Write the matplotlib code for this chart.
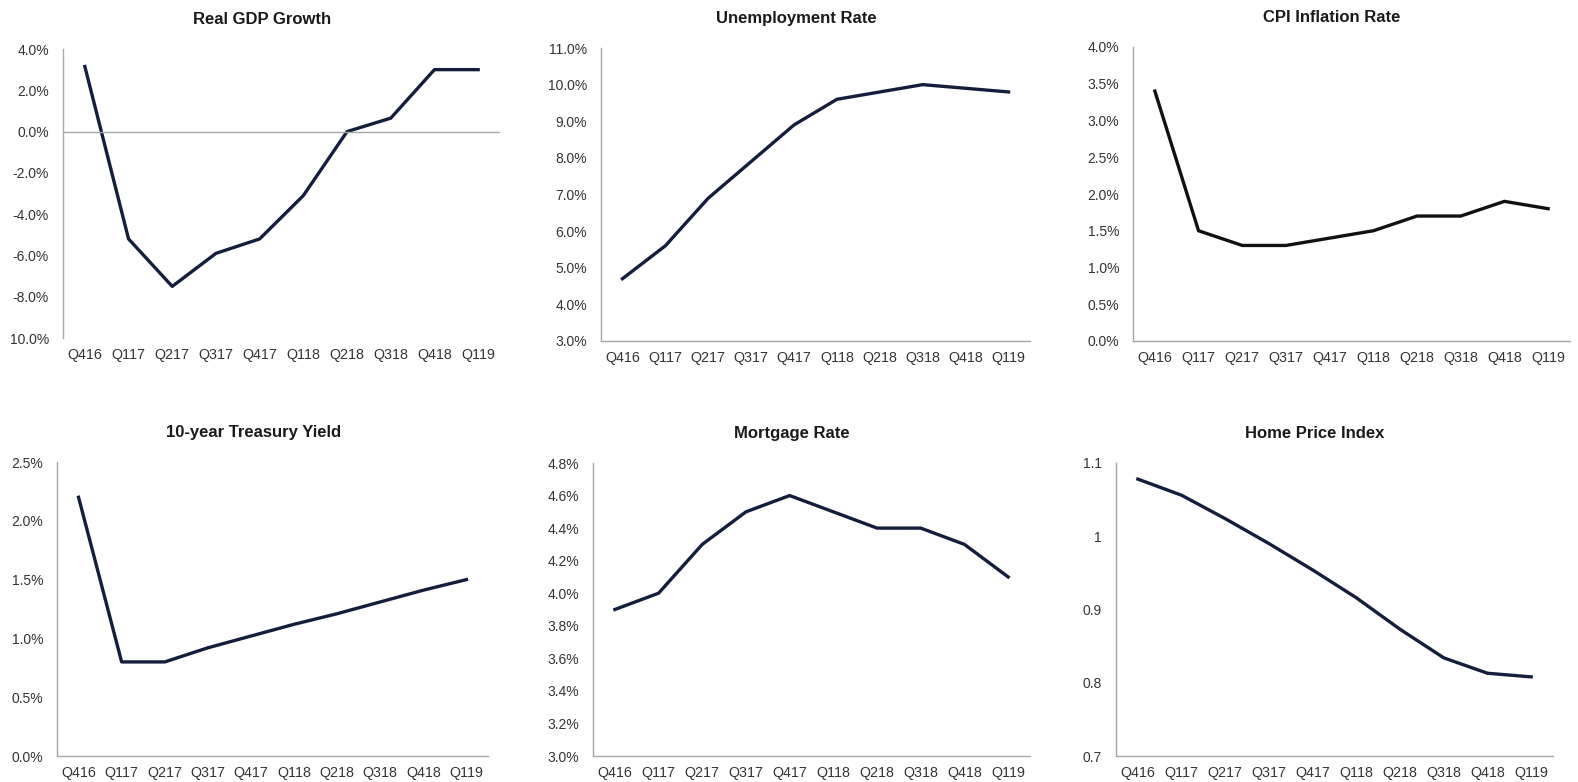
import matplotlib
matplotlib.use('Agg')
import matplotlib.pyplot as plt
from matplotlib.ticker import FuncFormatter

plt.rcParams['font.family'] = ['Liberation Sans', 'DejaVu Sans']

quarters = ['Q416', 'Q117', 'Q217', 'Q317', 'Q417', 'Q118', 'Q218', 'Q318', 'Q418', 'Q119']

gdp = [3.15, -5.2, -7.5, -5.9, -5.2, -3.1, 0.0, 0.65, 3.0, 3.0]
unemployment = [4.7, 5.6, 6.9, 7.9, 8.9, 9.6, 9.8, 10.0, 9.9, 9.8]
cpi = [3.4, 1.5, 1.3, 1.3, 1.4, 1.5, 1.7, 1.7, 1.9, 1.8]
treasury = [2.2, 0.8, 0.8, 0.92, 1.02, 1.12, 1.21, 1.31, 1.41, 1.5]
mortgage = [3.9, 4.0, 4.3, 4.5, 4.6, 4.5, 4.4, 4.4, 4.3, 4.1]
hpi = [1.078, 1.056, 1.024, 0.99, 0.954, 0.916, 0.873, 0.834, 0.813, 0.808]

gdp_ticks = [4, 2, 0, -2, -4, -6, -8, -10]
gdp_ticklabels = ['4.0%', '2.0%', '0.0%', '-2.0%', '-4.0%', '-6.0%', '-8.0%', '10.0%']

W, H = 1578, 782
NAVY = '#141e3c'
GRAY = '#a6a6a6'

fig = plt.figure(figsize=(W / 100, H / 100), dpi=100)


def make_ax(left, right, top, bottom):
    return fig.add_axes([left / W, 1 - bottom / H, (right - left) / W, (bottom - top) / H])


def style(ax, title, color=NAVY):
    for s in ['top', 'right']:
        ax.spines[s].set_visible(False)
    for s in ['left', 'bottom']:
        ax.spines[s].set_color(GRAY)
        ax.spines[s].set_linewidth(1.0)
    ax.tick_params(length=0, labelsize=10, colors='#333333')
    ax.tick_params(axis='y', pad=10)
    ax.tick_params(axis='x', pad=7, labelsize=10.3)
    ax.set_xlim(-0.5, 9.5)
    ax.set_xticks(range(len(quarters)))
    ax.set_xticklabels(quarters)
    ax.set_title(title, fontsize=12, fontweight='bold', x=0.455, pad=18, color='#1a1a1a')


pct = FuncFormatter(lambda v, p: '{:.1f}%'.format(v))

# Real GDP growth
ax = make_ax(63, 500, 49, 338)
ax.plot(range(10), gdp, color=NAVY, lw=2.4)
ax.axhline(0, color=GRAY, lw=1.0)
style(ax, 'Real GDP Growth')
ax.spines['bottom'].set_visible(False)
ax.set_ylim(-10, 4)
ax.set_yticks(gdp_ticks)
ax.set_yticklabels(gdp_ticklabels)

# unemployment
ax = make_ax(601, 1030, 48, 341)
ax.plot(range(10), unemployment, color=NAVY, lw=2.4)
style(ax, 'Unemployment Rate')
ax.set_ylim(3, 11)
ax.set_yticks(range(3, 12))
ax.yaxis.set_major_formatter(pct)

# cpi
ax = make_ax(1133, 1570, 47, 341)
ax.plot(range(10), cpi, color='#111111', lw=2.4)
style(ax, 'CPI Inflation Rate')
ax.set_ylim(0, 4)
ax.set_yticks([i * 0.5 for i in range(9)])
ax.yaxis.set_major_formatter(pct)

# 10 year treasury
ax = make_ax(57, 488, 462, 756)
ax.plot(range(10), treasury, color=NAVY, lw=2.4)
style(ax, '10-year Treasury Yield')
ax.set_ylim(0, 2.5)
ax.set_yticks([i * 0.5 for i in range(6)])
ax.yaxis.set_major_formatter(pct)

# mortgage
ax = make_ax(593, 1030, 463, 756)
ax.plot(range(10), mortgage, color=NAVY, lw=2.4)
style(ax, 'Mortgage Rate')
ax.set_ylim(3.0, 4.8)
ax.set_yticks([3.0 + i * 0.2 for i in range(10)])
ax.yaxis.set_major_formatter(pct)

# home price index
ax = make_ax(1116, 1553, 463, 756)
ax.plot(range(10), hpi, color=NAVY, lw=2.4)
style(ax, 'Home Price Index')
ax.set_ylim(0.7, 1.1)
ax.set_yticks([0.7, 0.8, 0.9, 1.0, 1.1])
ax.yaxis.set_major_formatter(FuncFormatter(lambda v, p: '{:g}'.format(round(v, 2))))

fig.savefig('out.png', dpi=100, facecolor='white')
